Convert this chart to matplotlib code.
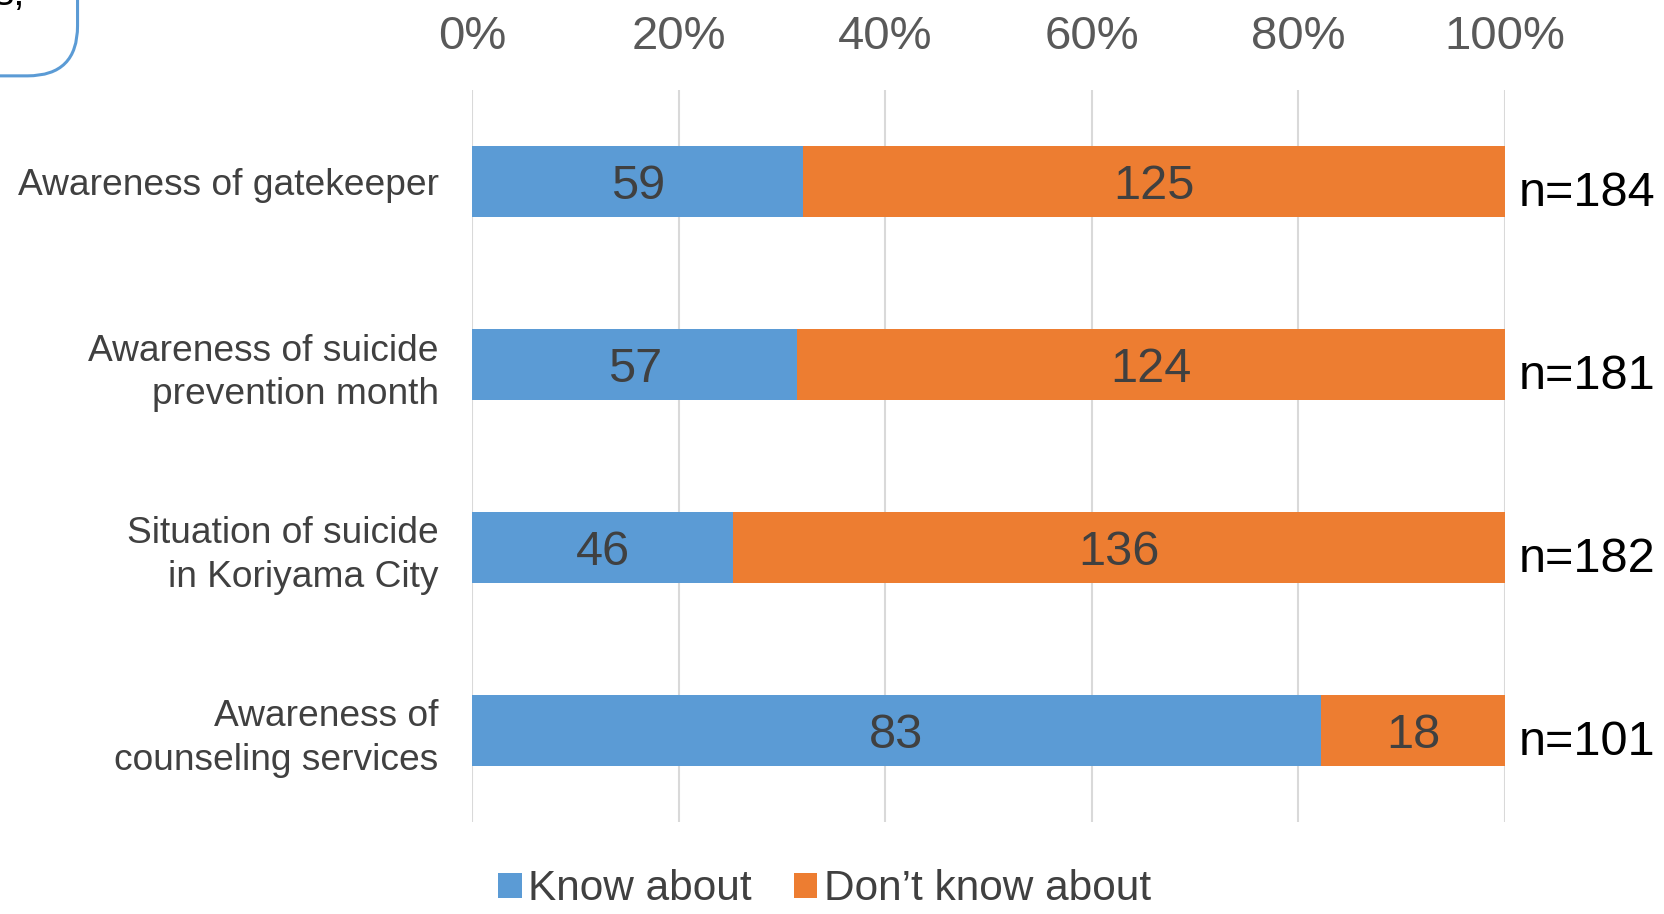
import matplotlib.pyplot as plt
from matplotlib.patches import FancyBboxPatch
from matplotlib.transforms import blended_transform_factory

plt.rcParams['font.family'] = ['Liberation Sans', 'DejaVu Sans']

# survey answers per question
categories = ['Awareness of gatekeeper',
              'Awareness of suicide\nprevention month',
              'Situation of suicide\nin Koriyama City',
              'Awareness of\ncounseling services']
know = [59, 57, 46, 83]
dont_know = [125, 124, 136, 18]
series_names = ['Know about', 'Don\u2019t know about']
tick_labels = ['0%', '20%', '40%', '60%', '80%', '100%']

blue = '#5B9BD5'
orange = '#ED7D31'

totals = [a + b for a, b in zip(know, dont_know)]
know_pct = [a / t * 100 for a, t in zip(know, totals)]
dont_pct = [b / t * 100 for b, t in zip(dont_know, totals)]
ypos = list(range(len(categories)))

fig = plt.figure(figsize=(16.64, 9.14), dpi=100)
ax = fig.add_axes([0.2837, 0.1007, 0.6207, 0.8008])

b1 = ax.barh(ypos, know_pct, height=0.39, color=blue, label=series_names[0], zorder=3)
b2 = ax.barh(ypos, dont_pct, left=know_pct, height=0.39, color=orange,
             label=series_names[1], zorder=3)

for i in ypos:
    ax.text(know_pct[i] / 2, i, str(know[i]), ha='center', va='center_baseline',
            fontsize=35, color='#404040', zorder=4)
    ax.text(know_pct[i] + dont_pct[i] / 2, i, str(dont_know[i]), ha='center',
            va='center_baseline', fontsize=35, color='#404040', zorder=4)

trans = blended_transform_factory(ax.transAxes, ax.transData)
for i in ypos:
    ax.text(1.0 + 0.146, i + 0.04, 'n=%d' % totals[i], transform=trans,
            ha='right', va='center_baseline', fontsize=35, color='black')

ax.set_xlim(0, 100)
ax.set_ylim(len(categories) - 0.5, -0.5)
ax.set_xticks([0, 20, 40, 60, 80, 100])
ax.set_xticklabels(tick_labels)
ax.xaxis.tick_top()
ax.tick_params(axis='x', length=0, pad=22, labelsize=34, labelcolor='#595959')
ax.set_yticks(ypos)
ax.set_yticklabels(categories, fontsize=26.7, color='#404040', linespacing=1.3)
ax.tick_params(axis='y', length=0, pad=24)
ax.grid(axis='x', color='#D9D9D9', linewidth=1.5, zorder=0)
for s in ax.spines.values():
    s.set_visible(False)

fig.legend(handles=[b1, b2], loc='center', bbox_to_anchor=(0.4955, 0.027),
           ncol=2, frameon=False, fontsize=30.5, handlelength=0.55,
           handleheight=0.55, handletextpad=0.15, columnspacing=1.0,
           labelcolor='#404040')

# rounded note box cut off at the top-left corner
box = FancyBboxPatch((-0.10, 0.917), 0.1466, 0.2, boxstyle='round,pad=0,rounding_size=0.03',
                     transform=fig.transFigure, facecolor='white', edgecolor='#5B9BD5',
                     linewidth=2.2, mutation_aspect=1664 / 914)
fig.patches.append(box)
fig.text(-0.004, 1 - 5 / 914, 's,', fontsize=29, color='black', ha='left', va='baseline')

fig.savefig('out.png', dpi=100)
